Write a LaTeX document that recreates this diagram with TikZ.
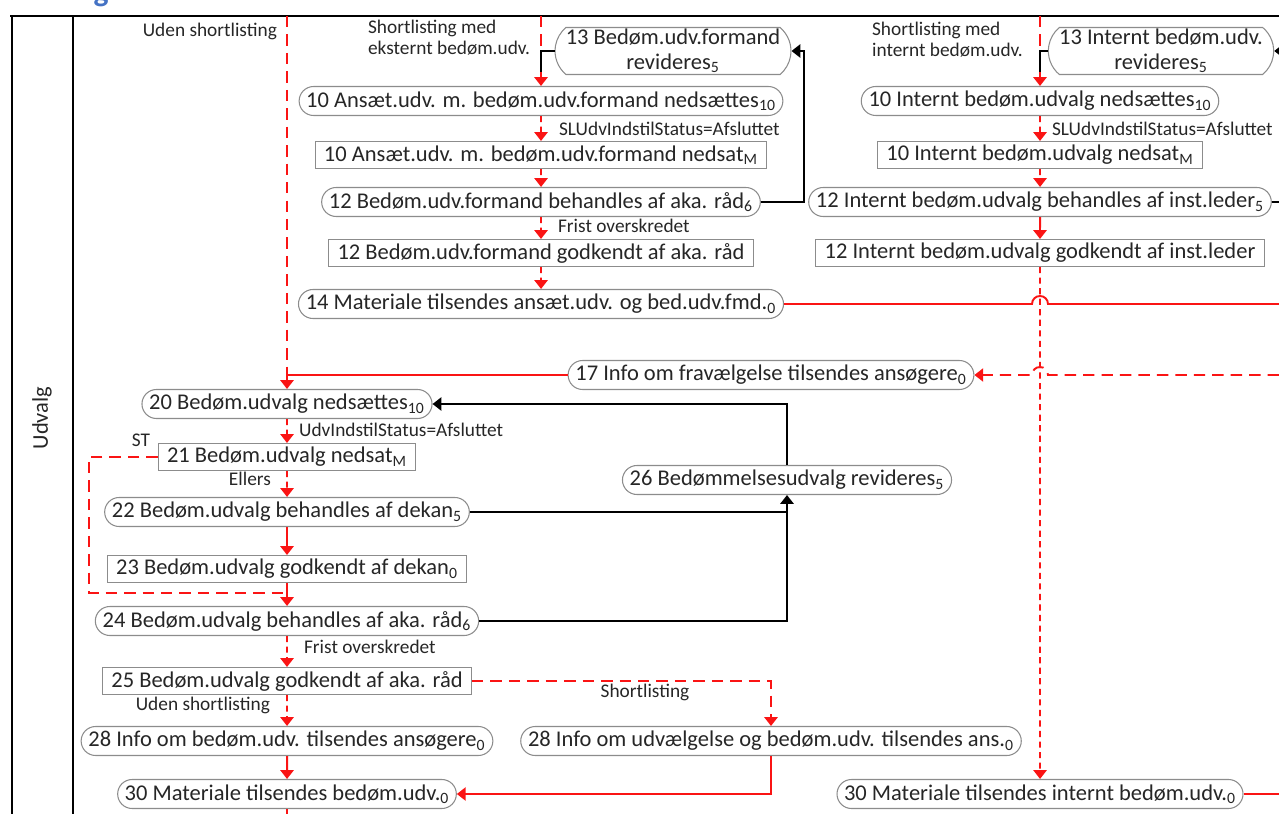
\documentclass[tikz,border=0pt]{standalone}
\usepackage{fontspec}
\setmainfont{Carlito}
\usetikzlibrary{arrows.meta, shapes.misc, positioning}

\definecolor{edgegray}{RGB}{140,140,140}
\definecolor{headblue}{RGB}{68,114,196}
\definecolor{flowred}{RGB}{250,20,20}

\begin{document}
\begin{tikzpicture}[x=0.2mm, y=-0.2mm,
    pill/.style={rounded rectangle, draw=edgegray, line width=0.6pt, fill=white,
                 text=black!85, font=\fontsize{12.8}{14}\selectfont,
                 minimum height=5.8mm, inner xsep=2pt, inner ysep=1pt, align=center},
    pilltwo/.style={rounded rectangle, rounded rectangle arc length=100, draw=edgegray,
                 line width=0.6pt, fill=white,
                 text=black!85, font=\fontsize{12.8}{14}\selectfont,
                 minimum height=8.4mm, inner xsep=1pt, inner ysep=1pt, align=center},
    act/.style={rectangle, draw=edgegray, line width=0.6pt, fill=white,
                text=black!85, font=\fontsize{12.8}{14}\selectfont,
                minimum height=5.4mm, inner xsep=5pt, inner ysep=1pt},
    lbl/.style={font=\fontsize{11}{12}\selectfont, text=black!85, inner sep=1pt, align=left},
    flow/.style={draw=flowred, line width=1.1pt, -{Triangle[width=7.5pt,length=5pt]}},
    flowdash/.style={flow, dash pattern=on 6.5pt off 4pt},
    flowdot/.style={flow, line width=1pt, dash pattern=on 3.5pt off 2.5pt},
    back/.style={draw=black, line width=1.1pt},
    backarrow/.style={back, -{Triangle[width=7.5pt,length=5pt]}},
    frame/.style={draw=black, line width=1.2pt},
]
\useasboundingbox (0,0) rectangle (1279,814);

% lane frame
\node[text=headblue, font=\bfseries\fontsize{18}{18}\selectfont, anchor=base, inner sep=0pt] (head) at (101,2) {g};
\draw[frame, line width=1.6pt] (10,16) -- (1279,16);
\draw[frame] (12,16) -- (12,814);
\draw[frame] (73,16) -- (73,814);
\node[rotate=90, font=\fontsize{12.8}{14}\selectfont, text=black!85] (lane) at (42,418) {Udvalg};

% formand column
\node[pilltwo] (bf13) at (673,51) {13 Bedøm.udv.formand\\revideres\textsubscript{5}};
\node[pill] (bf10) at (541,101) {10 Ansæt.udv. m. bedøm.udv.formand nedsættes\textsubscript{10}};
\node[act] (bf10m) at (541,155) {10 Ansæt.udv. m. bedøm.udv.formand nedsat\textsubscript{M}};
\node[pill] (bf12) at (541,202) {12 Bedøm.udv.formand behandles af aka. råd\textsubscript{6}};
\node[act] (bf12g) at (541,253) {12 Bedøm.udv.formand godkendt af aka. råd};
\node[pill] (mat14) at (541,304) {14 Materiale tilsendes ansæt.udv. og bed.udv.fmd.\textsubscript{0}};

% internt column
\node[pilltwo] (ib13) at (1161,51) {13 Internt bedøm.udv.\\revideres\textsubscript{5}};
\node[pill] (ib10) at (1040,101) {10 Internt bedøm.udvalg nedsættes\textsubscript{10}};
\node[act] (ib10m) at (1040,155) {10 Internt bedøm.udvalg nedsat\textsubscript{M}};
\node[pill] (ib12) at (1040,202) {12 Internt bedøm.udvalg behandles af inst.leder\textsubscript{5}};
\node[act] (ib12g) at (1040,253) {12 Internt bedøm.udvalg godkendt af inst.leder};

% udvalg column
\node[pill] (info17) at (771,375) {17 Info om fravælgelse tilsendes ansøgere\textsubscript{0}};
\node[pill] (bu20) at (287,404) {20 Bedøm.udvalg nedsættes\textsubscript{10}};
\node[act] (bu21) at (287,457) {21 Bedøm.udvalg nedsat\textsubscript{M}};
\node[pill] (bu26) at (787,480) {26 Bedømmelsesudvalg revideres\textsubscript{5}};
\node[pill] (bu22) at (287,512) {22 Bedøm.udvalg behandles af dekan\textsubscript{5}};
\node[act] (bu23) at (287,569) {23 Bedøm.udvalg godkendt af dekan\textsubscript{0}};
\node[pill] (bu24) at (287,621) {24 Bedøm.udvalg behandles af aka. råd\textsubscript{6}};
\node[act] (bu25) at (287,681) {25 Bedøm.udvalg godkendt af aka. råd};
\node[pill] (info28) at (287,741) {28 Info om bedøm.udv. tilsendes ansøgere\textsubscript{0}};
\node[pill] (sel28) at (771,741) {28 Info om udvælgelse og bedøm.udv. tilsendes ans.\textsubscript{0}};
\node[pill] (mat30) at (287,794) {30 Materiale tilsendes bedøm.udv.\textsubscript{0}};
\node[pill] (mat30i) at (1040,794) {30 Materiale tilsendes internt bedøm.udv.\textsubscript{0}};

% labels
\node[lbl, anchor=east] (l0) at (279,31) {Uden shortlisting};
\node[lbl, anchor=north west] (l1) at (366,18) {Shortlisting med\\eksternt bedøm.udv.};
\node[lbl, anchor=north west] (l2) at (870,20) {Shortlisting med\\internt bedøm.udv.};
\node[lbl, anchor=west] (l3) at (557,129) {SLUdvIndstilStatus=Afsluttet};
\node[lbl, anchor=west] (l4) at (1050,129) {SLUdvIndstilStatus=Afsluttet};
\node[lbl, anchor=west] (l5) at (556,226) {Frist overskredet};
\node[lbl, anchor=west] (l6) at (297,430) {UdvIndstilStatus=Afsluttet};
\node[lbl] (l7) at (141,440) {ST};
\node[lbl, anchor=east] (l8) at (273,479) {Ellers};
\node[lbl, anchor=west] (l9) at (302,647) {Frist overskredet};
\node[lbl, anchor=east] (l10) at (272,705) {Uden shortlisting};
\node[lbl] (l11) at (645,692) {Shortlisting};

% junctions and free ends
\coordinate (j10a) at (541,72);
\coordinate (j10c) at (1040,72);
\coordinate (j20) at (287,375);
\coordinate (j21) at (89,593);

% formand flow
\draw[flowdash, -] (541,16) -- (j10a);
\draw[back] (bf13.west) -| (j10a);
\draw[flow] (j10a) -- (bf10.north);
\draw[flowdot] (bf10) -- (bf10m);
\draw[flowdot] (bf10m) -- (bf12);
\draw[flowdot] (bf12) -- (bf12g);
\draw[flowdot] (bf12g) -- (mat14);
\draw[backarrow] (bf12.east) -- ++(43,0) |- (bf13.east);
\draw[flow, -] (mat14.east) -- (1032,304) arc[start angle=180, end angle=0, radius=1.6mm] -- (1279,304);

% internt flow
\draw[flowdash, -] (1040,16) -- (j10c);
\draw[back] (ib13.west) -| (j10c);
\draw[flow] (j10c) -- (ib10.north);
\draw[flowdot] (ib10) -- (ib10m);
\draw[flowdot] (ib10m) -- (ib12);
\draw[flow] (ib12) -- (ib12g);
\draw[flowdot] (ib12g) -- (mat30i);
\draw[back] (ib12.east) -- (1279,202);
\draw[backarrow] (1279,51) -- (ib13.east);
\draw[flowdash] (1279,375) -- (1048,375) arc[start angle=0, end angle=180, radius=1.6mm] -- (info17.east);

% udvalg flow
\draw[flowdash, -] (287,16) -- (j20);
\draw[flow, -] (info17.west) -- (j20);
\draw[flow] (j20) -- (bu20.north);
\draw[flowdot] (bu20) -- (bu21);
\draw[flowdash, -] (bu21.west) -| (j21) -- (j21 -| bu24.north);
\draw[flowdot] (bu21) -- (bu22);
\draw[flow] (bu22) -- (bu23);
\draw[flow] (bu23) -- (bu24);
\draw[back] (bu22.east) -- (bu22.east -| bu26.south);
\draw[backarrow] (bu24.east) -| (bu26.south);
\draw[backarrow] (bu26.north) |- (bu20.east);
\draw[flowdot] (bu24) -- (bu25);
\draw[flowdash] (bu25.east) -| (sel28.north);
\draw[flowdot] (bu25) -- (info28);
\draw[flow] (info28) -- (mat30);
\draw[flow] (sel28.south) |- (mat30.east);
\draw[flow, -] (mat30.south) -- (287,814);
\draw[flow, -] (mat30i.east) -- (1279,794);
\end{tikzpicture}
\end{document}
